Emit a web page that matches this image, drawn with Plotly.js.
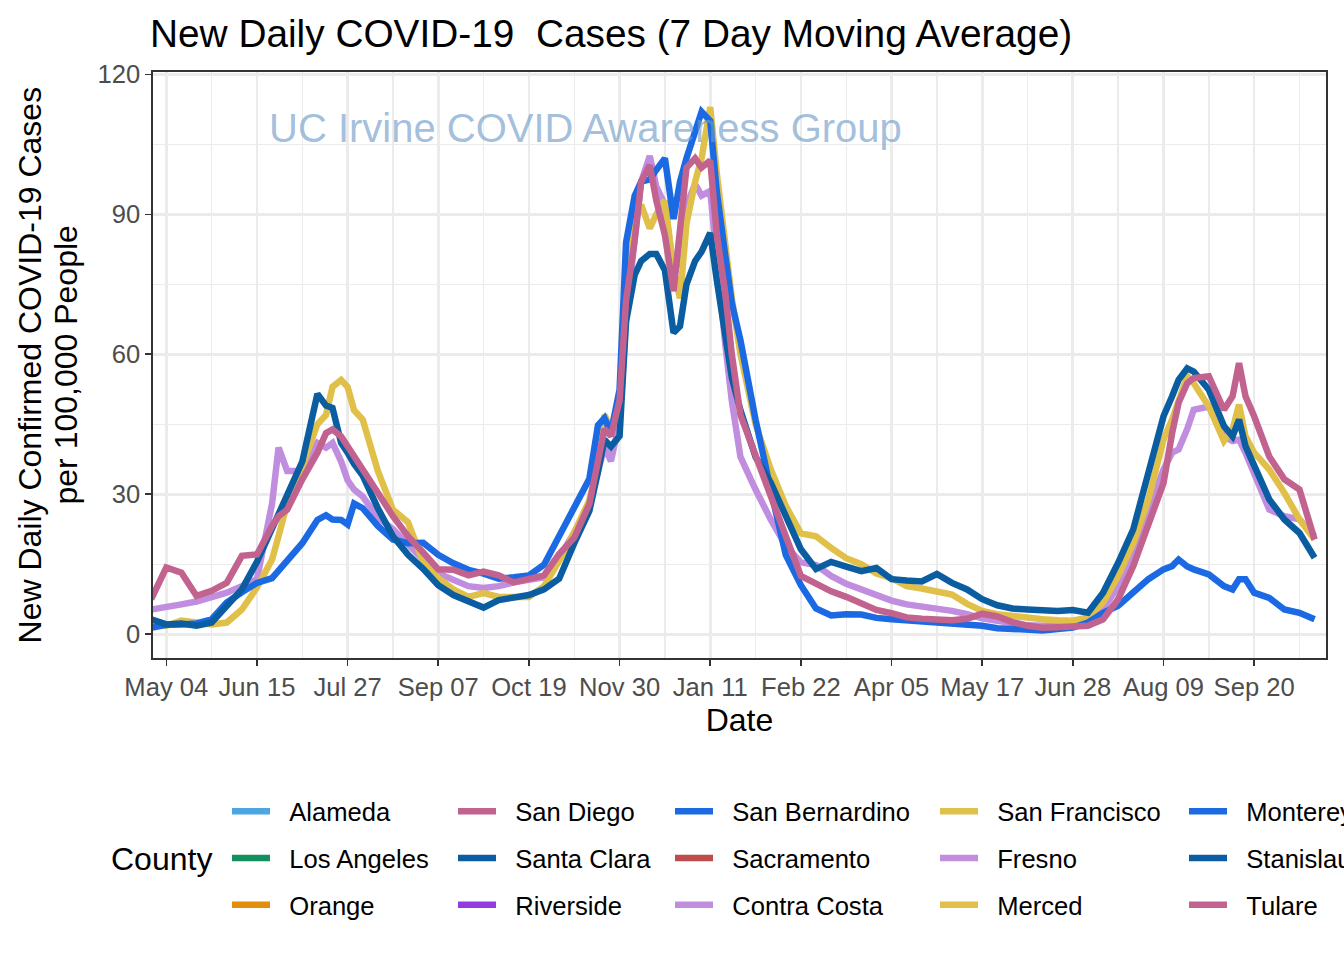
<!DOCTYPE html>
<html>
<head>
<meta charset="utf-8">
<script src="https://cdn.plot.ly/plotly-3.0.1.min.js"></script>
<style>html,body{margin:0;padding:0;background:#fff;}#chart{width:1344px;height:960px;}</style>
</head>
<body>
<div id="chart"></div>
<script>
// ---- data ----
const dates = [
 '2020-04-27','2020-05-04','2020-05-11','2020-05-18','2020-05-25','2020-06-01','2020-06-08','2020-06-15','2020-06-22','2020-06-25',
 '2020-06-29','2020-07-06','2020-07-13','2020-07-17','2020-07-20','2020-07-24','2020-07-27','2020-07-30','2020-08-03','2020-08-10',
 '2020-08-17','2020-08-24','2020-08-31','2020-09-07','2020-09-14','2020-09-21','2020-09-28','2020-10-05','2020-10-12','2020-10-19',
 '2020-10-26','2020-11-02','2020-11-09','2020-11-16','2020-11-20','2020-11-23','2020-11-26','2020-11-30','2020-12-03','2020-12-07',
 '2020-12-10','2020-12-14','2020-12-17','2020-12-21','2020-12-25','2020-12-28','2020-12-31','2021-01-04','2021-01-07','2021-01-11',
 '2021-01-14','2021-01-18','2021-01-21','2021-01-25','2021-02-01','2021-02-08','2021-02-15','2021-02-22','2021-03-01','2021-03-08',
 '2021-03-15','2021-03-22','2021-03-29','2021-04-05','2021-04-12','2021-04-19','2021-04-26','2021-05-03','2021-05-10','2021-05-17',
 '2021-05-24','2021-05-31','2021-06-07','2021-06-14','2021-06-21','2021-06-28','2021-07-05','2021-07-12','2021-07-19','2021-07-26',
 '2021-08-02','2021-08-09','2021-08-13','2021-08-16','2021-08-20','2021-08-23','2021-08-30','2021-09-06','2021-09-10','2021-09-13',
 '2021-09-16','2021-09-20','2021-09-27','2021-10-04','2021-10-11','2021-10-18'
];

const fresno = [
 5.3,6,6.4,7,8,8.9,10.3,11.8,28,40,
 35,35,41,40,41,37,33,31,29.5,25,
 22.5,19,16,13,11.5,10.3,9.9,10.3,11.1,11.5,
 12.2,16.4,21.8,27.9,35.6,40.2,37.1,45.5,68,86,
 97,102.5,96,92,78,80,92,96.5,94,95,
 80,62,50,38,31,24.6,19,15.4,14.8,12.5,
 10.8,9.6,8.2,7.2,6.4,6,5.7,5,4.3,3.4,
 2.9,2.3,1.9,1.8,2,2.2,3.2,5.3,10.3,17.5,
 26.7,35.3,38.9,39.6,44,48.1,48.8,42.4,41.4,41.7,
 38.9,34.6,26.7,25.3,24.6,21
];

const merced = [
 2,1.8,2.9,2.5,2.1,2.5,5.3,10,16,21,
 28,36,45,47,53,54.5,53,48,46,35,
 26.7,24,15.5,12,9.6,8,8.8,8,8,8,
 10.3,15.7,21.8,28.7,36.3,47,44,50,69,90,
 92,87,90,93,78,72,88,97,102,113,
 99,84,72,60,45,35.4,27.5,21.6,21,18.5,
 16.3,15,13,12,10.3,9.8,9.3,8.5,6.5,5,
 4.3,3.9,3.4,3.2,3,2.9,3.6,6.8,12.5,19.6,
 28.9,41.7,46,50.3,55.3,53.8,48.8,41.4,43.9,49.2,
 42.4,38.9,35.3,30.3,24.6,20.3
];

const monterey = [
 1.4,2,2.1,2.3,3.2,6.8,9,11,12,13.5,
 15.5,19.5,24.5,25.5,24.6,24.5,23.5,28,27,23.2,
 20.3,19.5,19.6,17,15.2,13.8,13,11.9,12.2,12.6,
 14.9,21,27.2,33.3,44.8,46.3,43.2,52.4,84,94,
 97,97.5,99.5,102,89,97,102,108,112,110,
 95,81,71,63,46,31,17,10.5,5.5,4,
 4.3,4.2,3.5,3.2,3,2.9,2.7,2.5,2.2,1.8,
 1.3,1.1,0.9,0.8,1.1,1.4,2.5,4.6,6.1,8.9,
 11.8,13.9,14.6,16,14.5,13.9,12.8,10.3,9.6,11.8,
 11.8,8.9,7.8,5.3,4.6,3.2
];

const stanislaus = [
 3.2,2.1,2.3,1.8,2.5,6,9.6,15.5,22.5,26,
 29.6,37,51.5,49,48.5,41,38.9,36.5,34,27,
 21,17,14,10.5,8.4,6.9,5.7,7.3,7.7,8.4,
 9.6,11.9,19.5,26.4,34.8,41.7,40.2,42.5,67,77,
 80,81.5,81.5,78,64.6,66,75,80,82,86,
 76,63,55,48,38,32.5,25.4,18.2,14,15.5,
 14.5,13.5,14.2,11.8,11.5,11.3,12.9,11,9.6,7.5,
 6.2,5.5,5.3,5,5,5.2,4.6,8.9,15.3,22.5,
 34.6,46.7,51,54.5,57,56.3,52.4,44.6,42.4,46,
 40.3,36,28.9,24.6,21.7,16.4
];

const tulare = [
 7.5,14.3,13.2,8.2,9.3,11,16.8,17.1,23.2,25.3,
 26.7,33.2,38.9,43.1,43.9,42.4,40.3,38.1,34.9,30.3,
 25.3,21,17.5,13.9,13.8,12.6,13.4,12.6,11.1,11.9,
 12.6,17.2,20.7,27.9,37.9,44,42.5,50.1,71.5,84.5,
 97,100.5,93,85.5,73.5,86,100,102,100,101.5,
 86,73,60,47,38,29.6,21,12.5,10.8,9.2,
 8,6.5,5.2,4.5,3.6,3.3,3.2,3,3.3,4.4,
 3.8,2.6,1.8,1.4,1.5,1.8,1.8,3.2,7.5,14.6,
 23.2,32.4,43.1,49.6,53.8,54.9,55.3,48.1,51,58.1,
 51,46.7,38.1,33.2,31,20.3
];

const counties = ['Alameda','Los Angeles','Orange','San Diego','Santa Clara','Riverside',
  'San Bernardino','Sacramento','Contra Costa','San Francisco','Fresno','Merced',
  'Monterey','Stanislaus','Tulare'];
const countyColors = ['#4BA6E2','#14905E','#E38D0B','#C1628F','#0B5DA1','#913BE0',
  '#1B6AE3','#BF4C4C','#C08DDF','#E1C04A','#C08DDF','#E1C04A',
  '#1B6AE3','#0B5DA1','#C1628F'];
const seriesByCounty = {Fresno: fresno, Merced: merced, Monterey: monterey, Stanislaus: stanislaus, Tulare: tulare};

const tickLabels = ['May 04','Jun 15','Jul 27','Sep 07','Oct 19','Nov 30','Jan 11','Feb 22','Apr 05','May 17','Jun 28','Aug 09','Sep 20'];
const tickDates = ['2020-05-04','2020-06-15','2020-07-27','2020-09-07','2020-10-19','2020-11-30','2021-01-11','2021-02-22','2021-04-05','2021-05-17','2021-06-28','2021-08-09','2021-09-20'];

// ---- build ----
const FONT = 'Liberation Sans, Arial, Helvetica, sans-serif';
const W = 1344, H = 960, ML = 152.7, MR = 18, MT = 71.7, MB = 302;
const PW = W - ML - MR, PH = H - MT - MB;
const legendIds = ['legend','legend2','legend3','legend4','legend5'];
const traces = counties.map((c, i) => {
  const ys = seriesByCounty[c];
  return {
    type: 'scatter', mode: 'lines',
    name: '\u00a0\u00a0' + c,   // small lead-in gap between key and label, as in the original legend
    // counties without plotted values get a single empty (null) sample so they still get a legend key
    x: ys ? dates : [dates[0]], y: ys ? ys : [null],
    line: {color: countyColors[i], width: 6.5},
    legend: legendIds[Math.floor(i / 3)],
    legendgroup: c,
    hoverinfo: 'x+y+name'
  };
});

const legendBase = (xpx) => ({
  xref: 'container', yref: 'container', x: xpx / W, y: 1 - 788 / H,
  xanchor: 'left', yanchor: 'top', orientation: 'v', bgcolor: 'rgba(0,0,0,0)',
  traceorder: 'grouped', tracegroupgap: 10.5,
  font: {family: FONT, size: 25.6, color: '#000'}, itemwidth: 38
});

const layout = {
  width: W, height: H,
  margin: {l: ML, r: MR, t: MT, b: MB, pad: 0, autoexpand: false},
  paper_bgcolor: '#fff', plot_bgcolor: '#fff',
  font: {family: FONT},
  title: {text: 'New Daily COVID-19 \u00a0Cases (7 Day Moving Average)', xref: 'container', x: 150 / W, xanchor: 'left',
          yref: 'container', y: 1 - 33 / H, yanchor: 'middle', pad: {l: 0, r: 0, t: 0, b: 0},
          font: {family: FONT, size: 38.8, color: '#000'}},
  xaxis: {
    type: 'date', range: ['2020-04-27 20:00', '2021-10-23 07:00'],
    tickmode: 'array', tickvals: tickDates, ticktext: tickLabels, tickangle: 0,
    tickfont: {family: FONT, size: 25.6, color: '#4D4D4D'},
    ticks: 'outside', ticklen: 6, tickwidth: 1.6, tickcolor: '#333333',
    showline: true, mirror: true, linecolor: '#333333', linewidth: 1.6,
    showgrid: true, gridcolor: '#EBEBEB', gridwidth: 2.7, zeroline: false,
    minor: {tick0: '2020-05-04', dtick: 21 * 86400000, showgrid: true, gridcolor: '#EBEBEB', gridwidth: 1.4, ticks: ''},
    title: {text: 'Date', font: {family: FONT, size: 32, color: '#000'}, standoff: 8}
  },
  yaxis: {
    range: [-5.1, 120.5], tick0: 0, dtick: 30,
    tickfont: {family: FONT, size: 25.6, color: '#4D4D4D'},
    ticks: 'outside', ticklen: 6, tickwidth: 1.6, tickcolor: '#333333',
    showline: true, mirror: true, linecolor: '#333333', linewidth: 1.6,
    showgrid: true, gridcolor: '#EBEBEB', gridwidth: 2.7, zeroline: false,
    minor: {tick0: 0, dtick: 15, showgrid: true, gridcolor: '#EBEBEB', gridwidth: 1.4, ticks: ''}
  },
  legend: legendBase(227), legend2: legendBase(453), legend3: legendBase(670),
  legend4: legendBase(935), legend5: legendBase(1184),
  showlegend: true,
  annotations: [
    {text: 'UC Irvine COVID Awareness Group', xref: 'x', yref: 'y', x: '2020-11-14', y: 108.4,
     xanchor: 'center', yanchor: 'middle', showarrow: false,
     font: {family: FONT, size: 40, color: 'rgba(110,155,200,0.65)'}},
    // y-axis title (two lines, rotated)
    {text: 'New Daily Confirmed COVID-19 Cases', xref: 'paper', yref: 'paper',
     x: (30 - ML) / PW, y: (H - MB - 365) / PH, xanchor: 'center', yanchor: 'middle', textangle: -90,
     showarrow: false, font: {family: FONT, size: 32, color: '#000'}},
    {text: 'per 100,000 People', xref: 'paper', yref: 'paper',
     x: (66 - ML) / PW, y: (H - MB - 365) / PH, xanchor: 'center', yanchor: 'middle', textangle: -90,
     showarrow: false, font: {family: FONT, size: 32, color: '#000'}},
    // legend title
    {text: 'County', xref: 'paper', yref: 'paper', x: (161 - ML) / PW, y: (H - MB - 859) / PH,
     xanchor: 'center', yanchor: 'middle', showarrow: false,
     font: {family: FONT, size: 32, color: '#000'}}
  ]
};

Plotly.newPlot('chart', traces, layout, {displayModeBar: false, staticPlot: true});
</script>
</body>
</html>
